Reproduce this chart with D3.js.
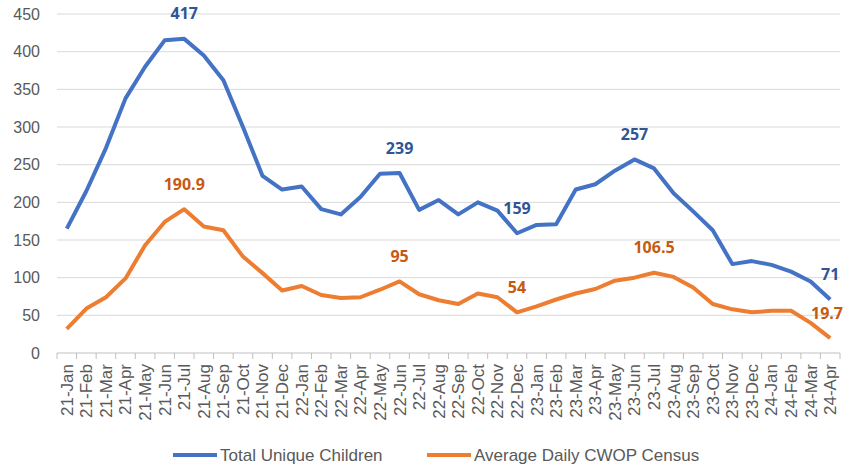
<!DOCTYPE html>
<html>
<head>
<meta charset="utf-8">
<script src="https://cdn.jsdelivr.net/npm/d3@7"></script>
<style>
  body { margin: 0; background: #fff; }
  svg { display: block; }
</style>
</head>
<body>
<div id="chart"></div>
<script>
// data
var months = ["21-Jan","21-Feb","21-Mar","21-Apr","21-May","21-Jun","21-Jul","21-Aug","21-Sep","21-Oct","21-Nov","21-Dec",
  "22-Jan","22-Feb","22-Mar","22-Apr","22-May","22-Jun","22-Jul","22-Aug","22-Sep","22-Oct","22-Nov","22-Dec",
  "23-Jan","23-Feb","23-Mar","23-Apr","23-May","23-Jun","23-Jul","23-Aug","23-Sep","23-Oct","23-Nov","23-Dec",
  "24-Jan","24-Feb","24-Mar","24-Apr"];

var totalChildren = [165,215,272,338,380,415,417,395,362,300,235,217,
  221,191,184,207,238,239,190,203,184,200,189,159,
  170,171,217,224,242,257,245,212,188,163,118,122,
  117,108,95,71];

var dailyCensus = [32,59,74,99,143,174,190.9,168,163,128,106,83,
  89,77,73,74,84,95,78,70,65,79,74,54,
  62,71,79,85,96,100,106.5,101,87,65,58,54,
  56,56,40,19.7];

var yTicks = [0,50,100,150,200,250,300,350,400,450];

// which points get a value label
var blueLabels = [6,17,23,29,39];
var orangeLabels = [6,17,23,30,39];

var width = 844, height = 467;
var margin = { left: 57, right: 4, top: 14, bottom: 114 };

var svg = d3.select("#chart").append("svg")
  .attr("width", width)
  .attr("height", height);

var x = d3.scaleBand()
  .domain(months)
  .range([margin.left, width - margin.right]);

var y = d3.scaleLinear()
  .domain([0, 450])
  .range([height - margin.bottom, margin.top]);

// gridlines
svg.append("g")
  .selectAll("line")
  .data(yTicks.slice(1))
  .enter().append("line")
    .attr("x1", x.range()[0])
    .attr("x2", x.range()[1])
    .attr("y1", function(d) { return y(d); })
    .attr("y2", function(d) { return y(d); })
    .attr("stroke", "#d9d9d9")
    .attr("stroke-width", 1);

// y axis labels
svg.append("g")
  .selectAll("text")
  .data(yTicks)
  .enter().append("text")
    .attr("x", 40)
    .attr("y", function(d) { return y(d); })
    .attr("dy", "0.35em")
    .attr("text-anchor", "end")
    .attr("font-family", "'Liberation Sans', Arial, sans-serif")
    .attr("font-size", "16px")
    .attr("fill", "#595959")
    .text(function(d) { return d; });

// x axis line + ticks between categories
var xAx = svg.append("g");
xAx.append("line")
  .attr("x1", x.range()[0])
  .attr("x2", x.range()[1])
  .attr("y1", y(0))
  .attr("y2", y(0))
  .attr("stroke", "#bfbfbf");
xAx.selectAll(".tk")
  .data(months.concat(["end"]))
  .enter().append("line")
    .attr("class", "tk")
    .attr("x1", function(d, i) { return x.range()[0] + i * x.step(); })
    .attr("x2", function(d, i) { return x.range()[0] + i * x.step(); })
    .attr("y1", y(0))
    .attr("y2", y(0) + 6)
    .attr("stroke", "#bfbfbf");

xAx.selectAll(".lbl")
  .data(months)
  .enter().append("text")
    .attr("class", "lbl")
    .attr("transform", function(d) {
      return "translate(" + (x(d) + x.bandwidth() / 2) + "," + (y(0) + 11) + ") rotate(-90)";
    })
    .attr("dy", "0.35em")
    .attr("text-anchor", "end")
    .attr("font-family", "'Liberation Sans', Arial, sans-serif")
    .attr("font-size", "17px")
    .attr("fill", "#595959")
    .text(function(d) { return d; });

var cx = function(d, i) { return x(months[i]) + x.bandwidth() / 2; };

var line = d3.line()
  .x(function(d, i) { return cx(d, i); })
  .y(function(d) { return y(d); });

svg.append("path")
  .datum(totalChildren)
  .attr("fill", "none")
  .attr("stroke", "#4472c4")
  .attr("stroke-width", 4)
  .attr("stroke-linejoin", "round")
  .attr("d", line);

svg.append("path")
  .datum(dailyCensus)
  .attr("fill", "none")
  .attr("stroke", "#ed7d31")
  .attr("stroke-width", 4)
  .attr("stroke-linejoin", "round")
  .attr("d", line);

// value labels (kept inside the right edge)
function addLabels(values, idx, color) {
  svg.append("g")
    .selectAll("text")
    .data(idx)
    .enter().append("text")
      .attr("x", function(i) { return cx(null, i); })
      .attr("y", function(i) { return y(values[i]) - 25; })
      .attr("dy", "0.35em")
      .attr("text-anchor", "middle")
      .attr("font-family", "'Open Sans', sans-serif")
      .attr("font-weight", "bold")
      .attr("font-size", "16px")
      .attr("fill", color)
      .text(function(i) { return values[i]; })
      .each(function(i) {
        var w = this.getComputedTextLength();
        var px = cx(null, i);
        if (px + w / 2 > width - 1) d3.select(this).attr("x", width - 1 - w / 2);
      });
}
addLabels(totalChildren, blueLabels, "#2f5597");
addLabels(dailyCensus, orangeLabels, "#c55a11");

// legend
var legendItems = [
  { name: "Total Unique Children", color: "#4472c4", x: 173 },
  { name: "Average Daily CWOP Census", color: "#ed7d31", x: 427 }
];
var legend = svg.append("g");
legendItems.forEach(function(item) {
  var row = legend.append("g")
    .attr("transform", "translate(" + item.x + "," + 455 + ")");
  row.append("line")
    .attr("x1", 0).attr("x2", 44)
    .attr("stroke", item.color)
    .attr("stroke-width", 4);
  row.append("text")
    .attr("x", 47)
    .attr("dy", "0.35em")
    .attr("font-family", "'Liberation Sans', Arial, sans-serif")
    .attr("font-size", "17px")
    .attr("fill", "#595959")
    .text(item.name);
});
</script>
</body>
</html>
